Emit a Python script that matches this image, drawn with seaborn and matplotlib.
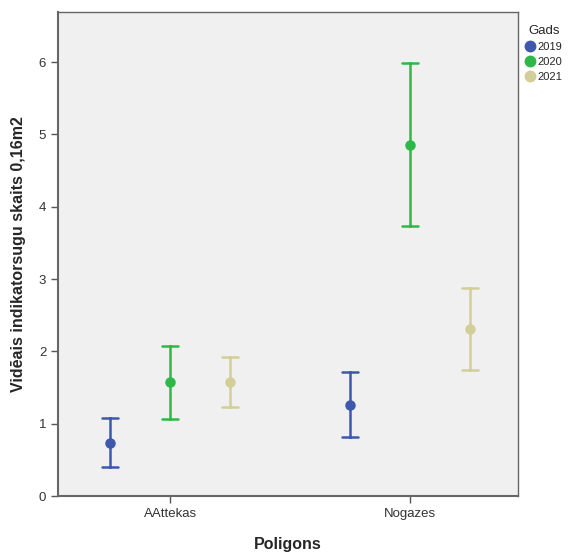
import pandas as pd
import matplotlib
matplotlib.use('Agg')
import matplotlib.pyplot as plt
import seaborn as sns

# vidējie un 95% TI robežas, nolasīts no attēla
poligoni = ['AAttekas', 'Nogazes']
gadi = ['2019', '2020', '2021']
videjais = {'2019': [0.74, 1.26], '2020': [1.57, 4.86], '2021': [1.57, 2.31]}
apaksa = {'2019': [0.40, 0.81], '2020': [1.06, 3.73], '2021': [1.23, 1.74]}
augsa = {'2019': [1.08, 1.71], '2020': [2.07, 5.99], '2021': [1.92, 2.88]}
krasas = ['#3E58AC', '#2EB848', '#D3CE97']

rows = []
for g in gadi:
    for i, p in enumerate(poligoni):
        for v in (apaksa[g][i], videjais[g][i], augsa[g][i]):
            rows.append({'Poligons': p, 'Gads': g, 'val': v})
df = pd.DataFrame(rows)

sns.set_style('white')
plt.rcParams['font.family'] = ['Liberation Sans', 'DejaVu Sans']

fig = plt.figure(figsize=(5.69, 5.53), dpi=100)
ax = fig.add_axes([0.102, 0.103, 0.808, 0.875])
ax.set_facecolor('#F0F0F0')

# mediāna = vidējais, pi 100 = [apakša, augša]
sns.pointplot(data=df, x='Poligons', y='val', hue='Gads', hue_order=gadi,
              order=poligoni, palette=krasas, estimator='median',
              errorbar=('pi', 100), dodge=0.5, linestyle='none',
              capsize=0.065, err_kws={'linewidth': 1.8},
              markersize=5.5, ax=ax)

ax.set_xlim(-0.467, 1.45)
ax.set_ylim(0, 6.69)
ax.set_yticks(range(7))
ax.set_xlabel('Poligons', fontsize=11.5, fontweight='bold', labelpad=12)
ax.set_ylabel('Vidēais indikatorsugu skaits 0,16m2', fontsize=11.5,
              fontweight='bold', labelpad=9)
ax.tick_params(axis='both', colors='#555555', labelcolor='#333333',
               labelsize=9.5, length=5, width=1, left=True, bottom=True)
for s in ax.spines.values():
    s.set_color('#666666')
    s.set_linewidth(1.0)
ax.spines['bottom'].set_linewidth(1.5)
ax.spines['left'].set_linewidth(1.5)

leg = ax.legend(title='Gads', loc='upper left', bbox_to_anchor=(1.0, 0.99),
                frameon=False, fontsize=8, title_fontsize=9.5,
                handletextpad=0.3, labelspacing=0.45, handlelength=0.8,
                borderaxespad=0.3)
for h in leg.legend_handles:
    h.set_markersize(6.5)
    h.set_linestyle('none')

fig.savefig('out.png', dpi=100)
